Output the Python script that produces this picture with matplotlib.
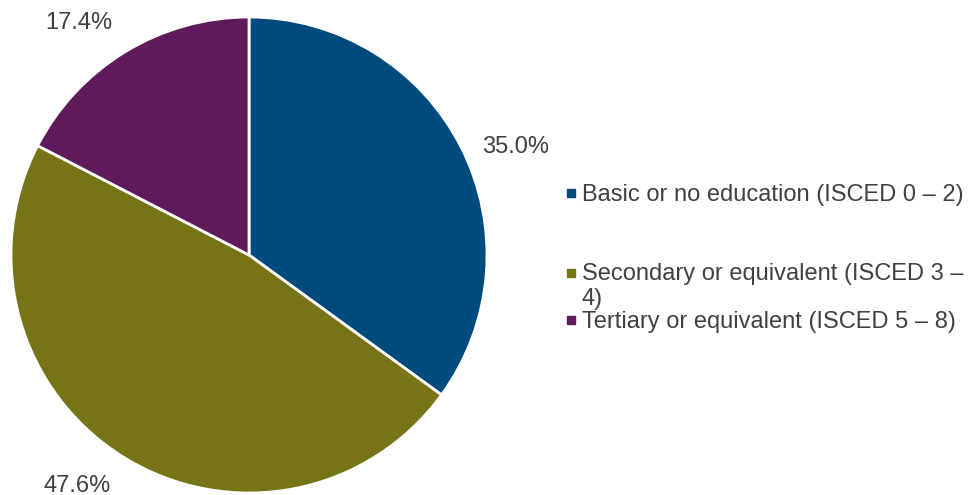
import matplotlib
matplotlib.use("Agg")
import matplotlib.pyplot as plt
from matplotlib.patches import Rectangle
import numpy as np

plt.rcParams.update({"font.family": ["Liberation Sans", "DejaVu Sans"], "figure.dpi": 100})

categories = [
    "Basic or no education (ISCED 0 \u2013 2)",
    "Secondary or equivalent (ISCED 3 \u2013\n4)",
    "Tertiary or equivalent (ISCED 5 \u2013 8)",
]
shares = [35.0, 47.6, 17.4]
colors = ["#004B7D", "#767417", "#5F1A5B"]
TEXT = "#404040"
FS = 17

fig = plt.figure(figsize=(9.73, 4.95))
W, H = 973, 495
cx, cy, r = 249, 255, 238
ax = fig.add_axes([(cx - r) / W, (H - cy - r) / H, 2 * r / W, 2 * r / H])

wedges, _ = ax.pie(
    shares, colors=colors, startangle=90, counterclock=False,
    wedgeprops={"edgecolor": "white", "linewidth": 2},
)
ax.set_xlim(-1, 1)
ax.set_ylim(-1, 1)
ax.set_aspect("equal")

# value labels just outside each wedge, nudged away from the vertical
for w, v in zip(wedges, shares):
    mid = (w.theta1 + w.theta2) / 2
    mid = (mid + 180) % 360 - 180
    shift = 5 if abs(mid) > 90 else -5
    a = np.deg2rad(mid + shift * np.sign(mid))
    ax.text(1.21 * np.cos(a), 1.21 * np.sin(a), f"{v:.1f}%", fontsize=FS,
            color=TEXT, ha="center", va="center")

# legend drawn by hand: small square marker + wrapped label
ys = [193, 273, 320]
line_h = 24
for y, lab, c in zip(ys, categories, colors):
    fig.patches.append(Rectangle((567 / W, 1 - (y + 4) / H), 8 / W, 8 / H,
                                 transform=fig.transFigure, color=c))
    # va="baseline" pins the last line, so push down by the extra lines
    extra = line_h * lab.count("\n")
    fig.text(582 / W, 1 - (y + 8 + extra) / H, lab, fontsize=FS, color=TEXT,
             va="baseline", ha="left", linespacing=1.2,
             transform=fig.transFigure)

fig.savefig("out.png", dpi=100)
